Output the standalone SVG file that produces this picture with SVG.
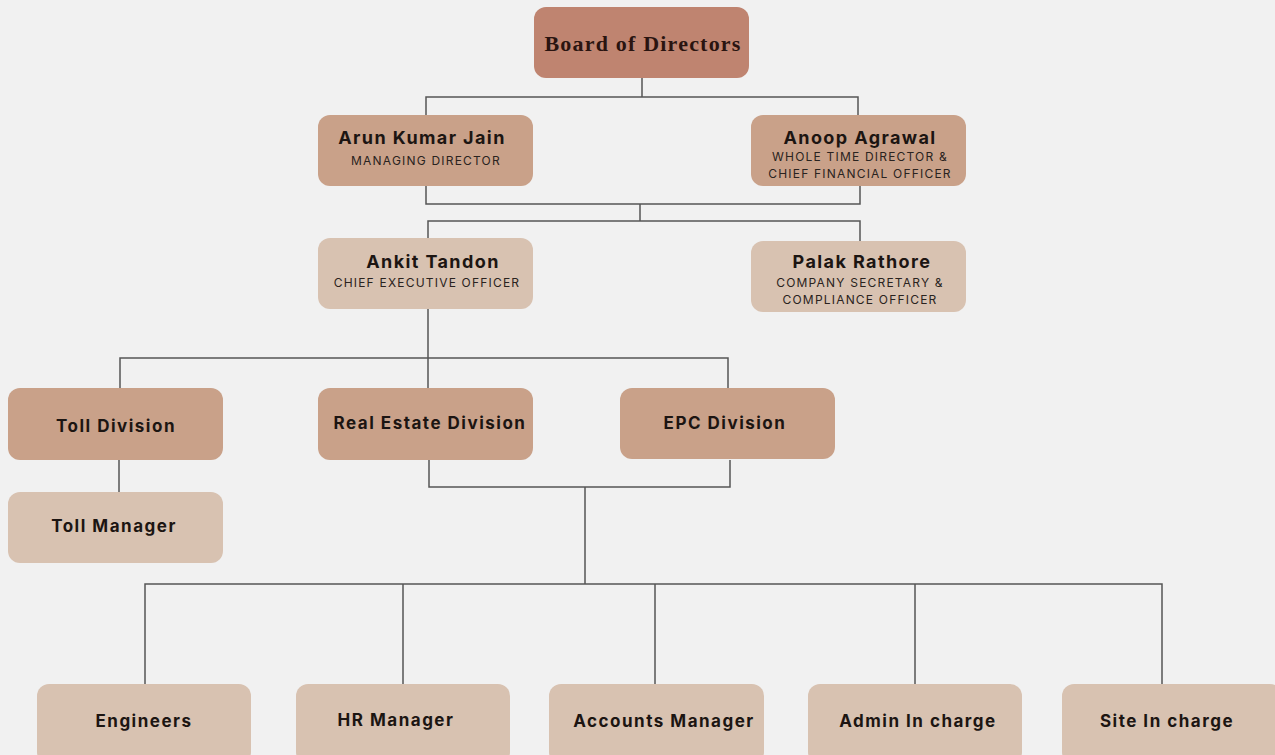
<svg xmlns="http://www.w3.org/2000/svg" width="1275" height="755" viewBox="0 0 1275 755">
<style>
.bg{fill:#f1f1f1}
.top{fill:#bf8470}
.mid{fill:#c9a189}
.lt{fill:#d8c2b1}
.t{font-family:Inter,"Liberation Sans",sans-serif;font-weight:700;fill:#1c1512;text-anchor:middle}
.n{font-size:18px;letter-spacing:1.4px}
.d{font-size:17px;letter-spacing:1.5px}
.s{font-family:Inter,"Liberation Sans",sans-serif;font-size:12px;fill:#2a2320;text-anchor:middle;letter-spacing:1.2px}
.c{fill:none;stroke:#555;stroke-width:1.5}
</style>
<rect class="bg" x="0" y="0" width="1275" height="755"/>
<g id="connectors">
<path class="c" d="M642 78V97M426 115V97H858V115"/>
<path class="c" d="M426 186V204H860V186M640 204V221M428 238V221H860V241"/>
<path class="c" d="M428 309V358M120 388V358H728V388M428 358V388"/>
<path class="c" d="M119 460V492"/>
<path class="c" d="M429 460V487H730V460M585 487V584"/>
<path class="c" d="M145 684V584H1162V684M403 584V684M655 584V684M915 584V684"/>
</g>
<g id="board"><rect class="top" x="534" y="7" width="215" height="71" rx="12"/><text x="643" y="51" style="font-family:'Liberation Serif',serif;font-weight:700;font-size:22px;letter-spacing:1.2px;fill:#2a1410;text-anchor:middle">Board of Directors</text></g>
<g id="arun"><rect class="mid" x="318" y="115" width="215" height="71" rx="12"/><text class="t n" x="422" y="144">Arun Kumar Jain</text><text class="s" x="426" y="165">MANAGING DIRECTOR</text></g>
<g id="anoop"><rect class="mid" x="751" y="115" width="215" height="71" rx="12"/><text class="t n" x="860" y="144">Anoop Agrawal</text><text class="s" x="860" y="161">WHOLE TIME DIRECTOR &amp;</text><text class="s" x="860" y="178">CHIEF FINANCIAL OFFICER</text></g>
<g id="ankit"><rect class="lt" x="318" y="238" width="215" height="71" rx="12"/><text class="t n" x="433" y="268">Ankit Tandon</text><text class="s" x="427" y="287">CHIEF EXECUTIVE OFFICER</text></g>
<g id="palak"><rect class="lt" x="751" y="241" width="215" height="71" rx="12"/><text class="t n" x="862" y="268">Palak Rathore</text><text class="s" x="860" y="287">COMPANY SECRETARY &amp;</text><text class="s" x="860" y="304">COMPLIANCE OFFICER</text></g>
<g id="toll"><rect class="mid" x="8" y="388" width="215" height="72" rx="12"/><text class="t d" x="116" y="432">Toll Division</text></g>
<g id="realestate"><rect class="mid" x="318" y="388" width="215" height="72" rx="12"/><text class="t d" x="430" y="429">Real Estate Division</text></g>
<g id="epc"><rect class="mid" x="620" y="388" width="215" height="71" rx="12"/><text class="t d" x="725" y="429">EPC Division</text></g>
<g id="tollmgr"><rect class="lt" x="8" y="492" width="215" height="71" rx="12"/><text class="t d" x="114" y="532">Toll Manager</text></g>
<g id="engineers"><rect class="lt" x="37" y="684" width="214" height="80" rx="12"/><text class="t d" x="144" y="727">Engineers</text></g>
<g id="hr"><rect class="lt" x="296" y="684" width="214" height="80" rx="12"/><text class="t d" x="396" y="726">HR Manager</text></g>
<g id="accounts"><rect class="lt" x="549" y="684" width="215" height="80" rx="12"/><text class="t d" x="664" y="727">Accounts Manager</text></g>
<g id="admin"><rect class="lt" x="808" y="684" width="214" height="80" rx="12"/><text class="t d" x="918" y="727">Admin In charge</text></g>
<g id="site"><rect class="lt" x="1062" y="684" width="220" height="80" rx="12"/><text class="t d" x="1167" y="727">Site In charge</text></g>
</svg>
